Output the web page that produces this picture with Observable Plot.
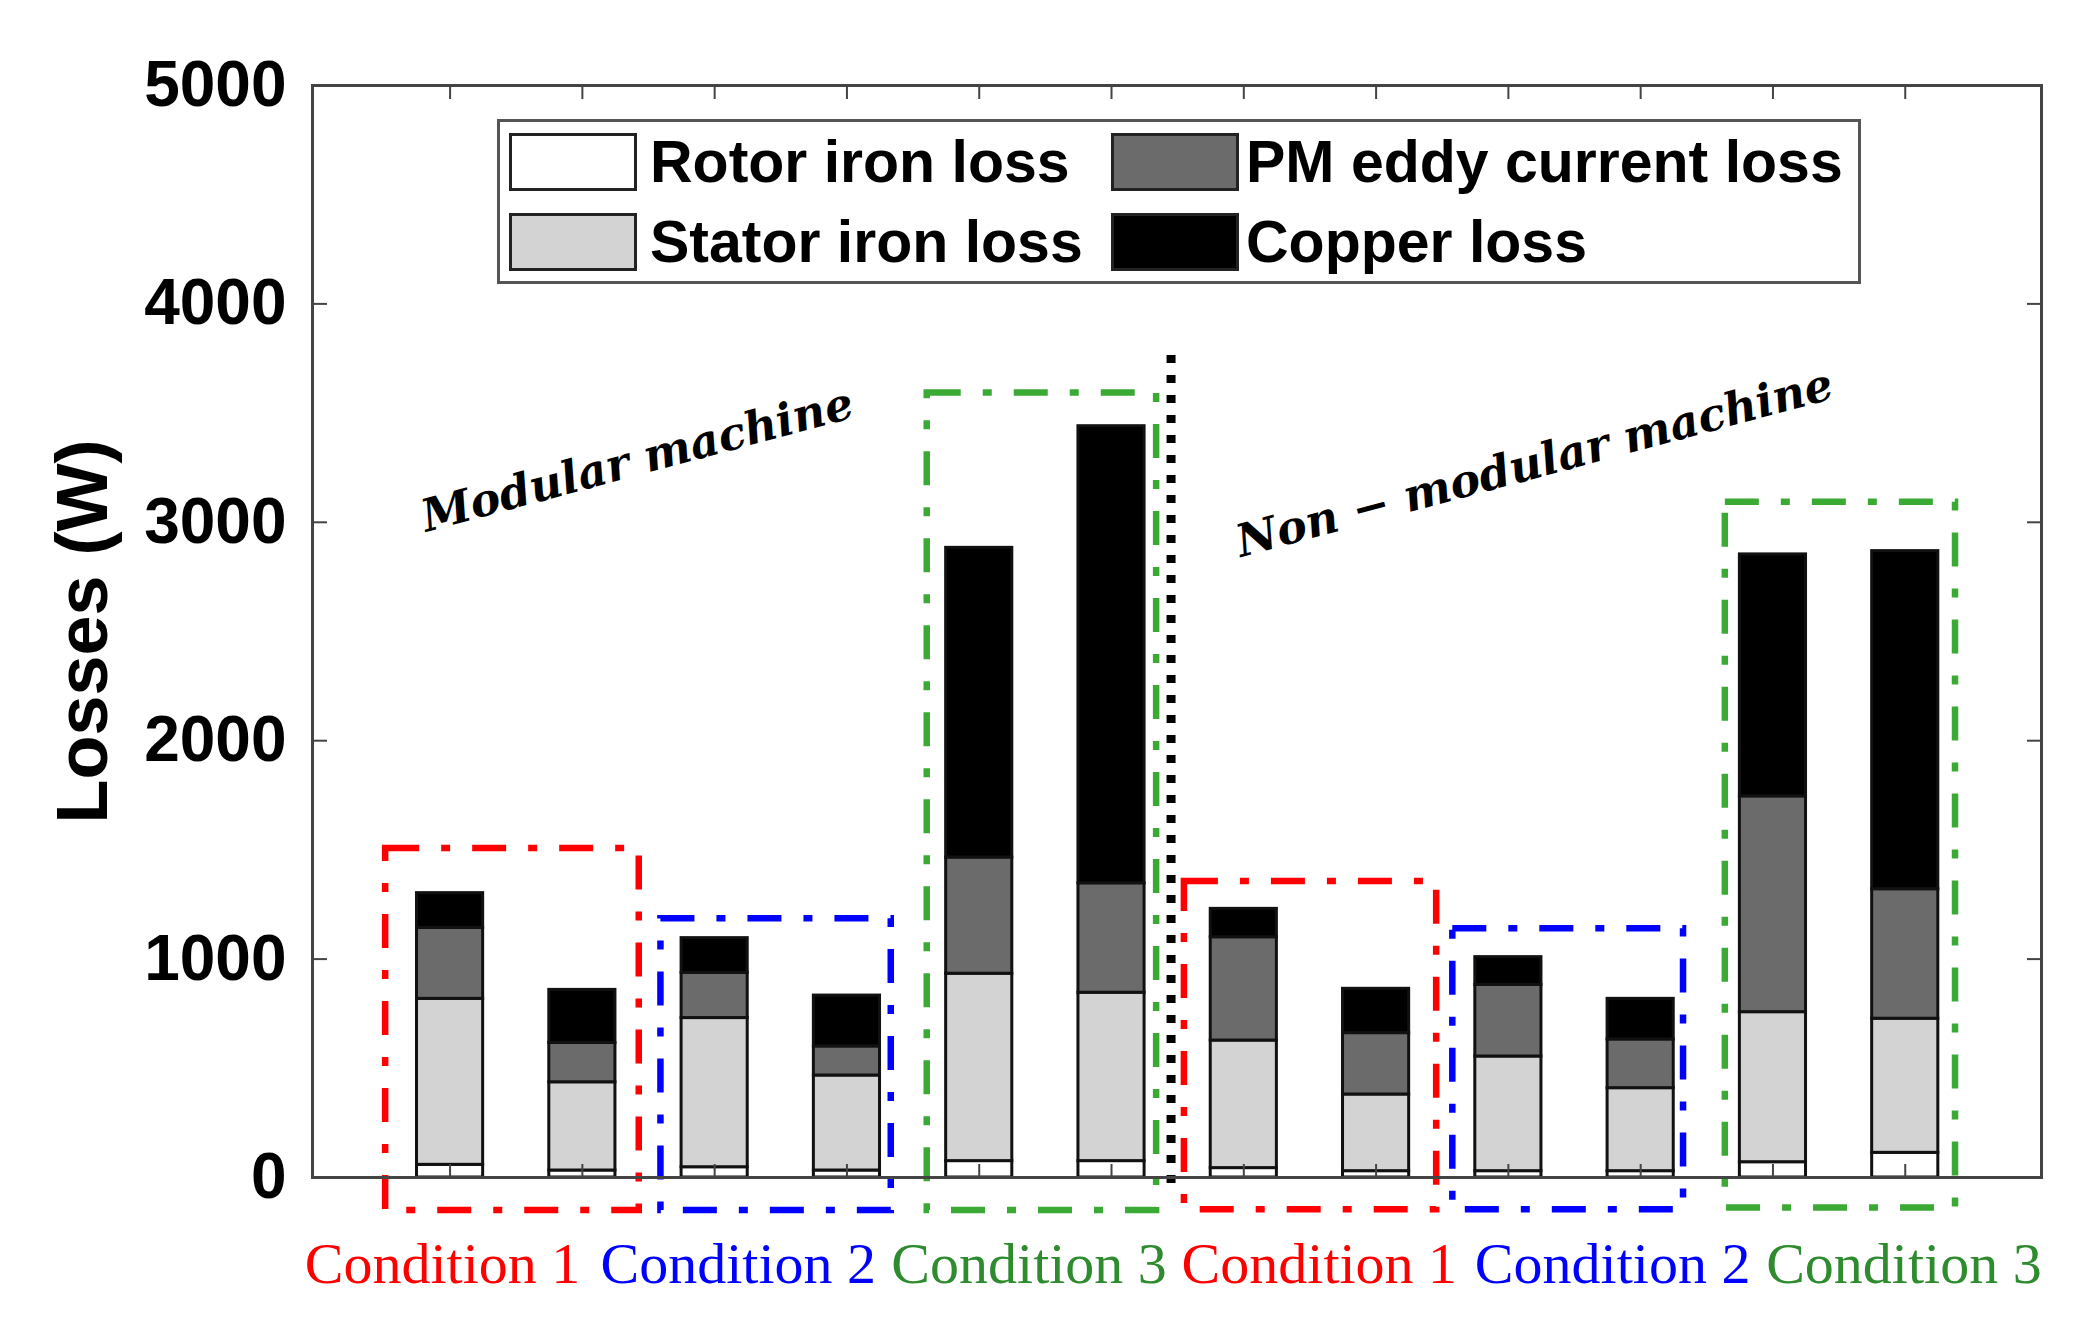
<!DOCTYPE html>
<html>
<head>
<meta charset="utf-8">
<script src="https://cdn.jsdelivr.net/npm/d3@7"></script>
<script src="https://cdn.jsdelivr.net/npm/@observablehq/plot@0.6"></script>
<style>
  body { margin: 0; background: #fff; }
  #wrap { position: relative; width: 2082px; height: 1331px; }
  #legend { position: absolute; left: 497px; top: 119px; width: 1358px; height: 159px;
            border: 3px solid #555; background: #fff;
            font-family: "Liberation Sans", Arial, sans-serif; font-weight: bold; font-size: 59px; }
  .sw { position: absolute; width: 122px; height: 52px; border: 3px solid #222; }
  .lt { position: absolute; height: 58px; line-height: 58px; white-space: nowrap; color: #000; }
</style>
</head>
<body>
<div id="wrap"></div>
<script>
// ---------- data ----------
const barIndex   = [1, 2, 3, 4, 5, 6, 7, 8, 9, 10, 11, 12];
const machine    = ["Modular", "Modular", "Modular", "Modular", "Modular", "Modular",
                    "Non-modular", "Non-modular", "Non-modular", "Non-modular", "Non-modular", "Non-modular"];
const condition  = [1, 1, 2, 2, 3, 3, 1, 1, 2, 2, 3, 3];

const rotorIron  = [58, 32, 47, 32, 75, 75, 43, 29, 29, 29, 70, 113];
const statorIron = [760, 404, 683, 435, 858, 771, 584, 351, 525, 380, 687, 614];
const pmEddy     = [325, 180, 207, 133, 532, 501, 473, 281, 328, 223, 988, 593];
const copper     = [159, 243, 159, 233, 1418, 2093, 130, 203, 127, 186, 1108, 1548];

const seriesNames  = ["Rotor iron loss", "Stator iron loss", "PM eddy current loss", "Copper loss"];
const seriesColors = ["#ffffff", "#d3d3d3", "#6b6b6b", "#000000"];

const yTicks = [0, 1000, 2000, 3000, 4000, 5000];

const condLabels = ["Condition 1", "Condition 2", "Condition 3", "Condition 1", "Condition 2", "Condition 3"];
const condX      = [0.943, 3.179, 5.377, 7.571, 9.788, 11.99];
const condText   = ["#ff0000", "#0000ff", "#2e8b2e", "#ff0000", "#0000ff", "#2e8b2e"];

// dash-dot group boxes (data units)
const boxX1     = [0.513, 2.594, 4.607, 6.551, 8.58, 10.64];
const boxX2     = [2.43, 4.335, 6.341, 8.458, 10.324, 12.38];
const boxTop    = [1506, 1185, 3592, 1355, 1139, 3092];
const boxBottom = [-151, -151, -151, -148, -148, -140];
const boxColor  = ["#ff0000", "#0000ff", "#3aaa35", "#ff0000", "#0000ff", "#3aaa35"];

// divider between machines
const dividerX  = [6.45];
const dividerY1 = -27;
const dividerY2 = 3808;

// machine annotations
const annoText  = ["Modular machine", "Non \u2212 modular machine"];
const annoX     = [2.416, 9.199];
const annoY     = [3283, 3269];
const annoAngle = -15;

// ---------- build stacked segments ----------
const seriesValues = [rotorIron, statorIron, pmEddy, copper];
const segs = [];
barIndex.forEach((b, i) => {
  let acc = 0;
  seriesValues.forEach((vals, s) => {
    segs.push({bar: b, y1: acc, y2: acc + vals[i], fill: seriesColors[s], series: seriesNames[s]});
    acc += vals[i];
  });
});
const boxes = boxX1.map((x1, i) => ({x1, x2: boxX2[i], y1: boxBottom[i], y2: boxTop[i], color: boxColor[i]}));
const conds = condLabels.map((t, i) => ({t, x: condX[i], c: condText[i]}));
const annos = annoText.map((t, i) => ({t, x: annoX[i], y: annoY[i]}));

const axisStyle = {stroke: "#444", strokeWidth: 2, text: null, label: null};

const chart = Plot.plot({
  width: 2082,
  height: 1331,
  marginLeft: 312,
  marginRight: 41,
  marginTop: 85,
  marginBottom: 154,
  x: {type: "linear", domain: [-0.04, 13.03]},
  y: {domain: [0, 5000]},
  color: {type: "identity"},
  style: {background: "#fff", color: "#000", overflow: "visible"},
  marks: [
    Plot.rect(segs, {x1: d => d.bar - 0.25, x2: d => d.bar + 0.25, y1: "y1", y2: "y2",
                     fill: "fill", stroke: "#111", strokeWidth: 3}),
    Plot.rect(boxes, {x1: "x1", x2: "x2", y1: "y1", y2: "y2", fill: "none", stroke: "color",
                      strokeWidth: 6.5, strokeDasharray: "34,22,9,22"}),
    Plot.ruleX(dividerX, {x: d => d, y1: dividerY1, y2: dividerY2, stroke: "#000",
                          strokeWidth: 9, strokeDasharray: "8,12"}),
    Plot.axisY({anchor: "left", ticks: yTicks, tickSize: 0, tickPadding: 26, label: null,
                tickFormat: d3.format("d"),
                fontSize: 64, fontWeight: "bold", fontFamily: "Liberation Sans, Arial, sans-serif"}),
    Plot.axisY({anchor: "left", ticks: yTicks, tickSize: -15, ...axisStyle}),
    Plot.axisY({anchor: "right", ticks: yTicks, tickSize: -15, ...axisStyle}),
    Plot.axisX({anchor: "bottom", ticks: barIndex, tickSize: -13, ...axisStyle}),
    Plot.axisX({anchor: "top", ticks: barIndex, tickSize: -13, ...axisStyle}),
    Plot.frame({stroke: "#444", strokeWidth: 3}),
    Plot.text(["Losses (W)"], {frameAnchor: "left", dx: -229, rotate: -90, fontSize: 72,
                               fontWeight: "bold", fontFamily: "Liberation Sans, Arial, sans-serif",
                               textAnchor: "middle", lineAnchor: "middle"}),
    Plot.text(conds, {x: "x", text: "t", fill: "c", frameAnchor: "bottom", dy: 87,
                      fontFamily: "Liberation Serif, Times New Roman, serif", fontSize: 58,
                      lineAnchor: "middle"}),
    Plot.text(annos, {x: "x", y: "y", text: "t", rotate: annoAngle, fontSize: 45,
                      fontWeight: "bold", fontStyle: "italic",
                      fontFamily: "DejaVu Serif, serif", lineAnchor: "middle"})
  ]
});

const wrap = document.getElementById("wrap");
wrap.appendChild(chart);

// ---------- legend overlay ----------
const legend = document.createElement("div");
legend.id = "legend";
const legendLayout = [
  {name: seriesNames[0], color: seriesColors[0], sx: 9,   sy: 11, tx: 150},
  {name: seriesNames[2], color: seriesColors[2], sx: 611, sy: 11, tx: 746},
  {name: seriesNames[1], color: seriesColors[1], sx: 9,   sy: 91, tx: 150},
  {name: seriesNames[3], color: seriesColors[3], sx: 611, sy: 91, tx: 746}
];
legendLayout.forEach(it => {
  const sw = document.createElement("div");
  sw.className = "sw";
  sw.style.left = it.sx + "px";
  sw.style.top = it.sy + "px";
  sw.style.background = it.color;
  legend.appendChild(sw);
  const t = document.createElement("div");
  t.className = "lt";
  t.style.left = it.tx + "px";
  t.style.top = it.sy + "px";
  t.textContent = it.name;
  legend.appendChild(t);
});
wrap.appendChild(legend);
</script>
</body>
</html>
